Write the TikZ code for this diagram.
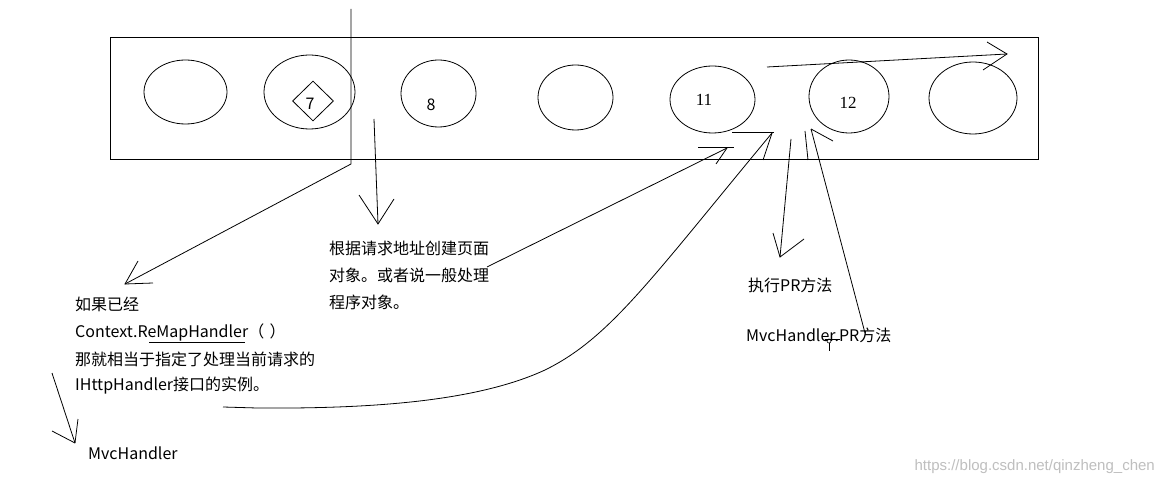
\documentclass[tikz,border=0pt]{standalone}
\usepackage{fontspec}
\newfontfamily\cjk{Noto Sans CJK SC}
\newfontfamily\numserif{Liberation Serif}
\newfontfamily\wmfont{Liberation Sans}
\usetikzlibrary{shapes.geometric}
\tikzset{
  stroke/.style={line width=0.8pt, black},
  frame/.style={line width=1.0pt, black},
  oval/.style={draw, ellipse, line width=0.8pt, inner sep=0pt},
  txt/.style={anchor=west, inner sep=0pt, font=\cjk\fontsize{16}{16}\selectfont},
  numlbl/.style={inner sep=0pt, font=\numserif\fontsize{17}{17}\selectfont},
  numsans/.style={inner sep=0pt, font=\cjk\fontsize{16}{16}\selectfont},
}
\begin{document}
\begin{tikzpicture}[x=1pt,y=-1pt]
\useasboundingbox (0,0) rectangle (1162,486);
\fill[white] (0,0) rectangle (1162,486);

% frame
\draw[frame] (110,38) rectangle (1038,160);

% ovals
\node[oval, minimum width=83pt, minimum height=64pt] (e1) at (185.5,92) {};
\node[oval, minimum width=91pt, minimum height=74pt] (e7) at (309.5,92) {};
\node[oval, minimum width=75pt, minimum height=67pt] (e8) at (438.5,93.5) {};
\node[oval, minimum width=75pt, minimum height=65pt] (e4) at (575.5,97.5) {};
\node[oval, minimum width=85pt, minimum height=67pt] (e11) at (712.5,99.5) {};
\node[oval, minimum width=80pt, minimum height=73pt] (e12) at (849,96.5) {};
\node[oval, minimum width=88pt, minimum height=72pt] (e6) at (973,98) {};
\node[draw, diamond, line width=0.8pt, inner sep=0pt, minimum width=41pt, minimum height=40pt] (d7) at (313,101) {};

% numbers
\node[numsans] (n7) at (310,104) {7};
\node[numsans] (n8) at (431,105) {8};
\node[numlbl] (n11) at (704,100) {11};
\node[numlbl] (n12) at (848,103) {12};

% texts
\node[txt] (t1) at (329,248) {根据请求地址创建页面};
\node[txt] (t2) at (329,275) {对象。或者说一般处理};
\node[txt] (t3) at (329,302) {程序对象。};
\node[txt] (t4) at (75,304) {如果已经};
\node[txt] (t5) at (75,332) {Context.ReMapHandler（\,\,）};
\node[txt] (t6) at (75,359) {那就相当于指定了处理当前请求的};
\node[txt] (t7) at (75,386) {IHttpHandler接口的实例。};
\node[txt] (t8) at (88,453) {MvcHandler};
\node[txt] (t9) at (748,285) {执行PR方法};
\node[txt] (t10) at (746,335) {MvcHandler.PR方法};
\node[anchor=east, inner sep=0pt, text=black!25, font=\wmfont\fontsize{15}{15}\selectfont] (wm) at (1155,467) {https://blog.csdn.net/qinzheng\_chen};

% coordinates
\coordinate (a1s) at (351,9);
\coordinate (a1k) at (351,164);
\coordinate (a1e) at (125,284);
\coordinate (a1h1) at (138,261);
\coordinate (a1h2) at (153,283);

\coordinate (a2s) at (374,119);
\coordinate (a2e) at (378,224);
\coordinate (a2h1) at (359,195);
\coordinate (a2h2) at (394,199);

\coordinate (a3s) at (487,267);
\coordinate (a3e) at (727,148);
\coordinate (a3h1) at (716,164);
\coordinate (a3b1) at (698,147);
\coordinate (a3b2) at (734,147);

\coordinate (a4s) at (223,407);
\coordinate (a4e) at (772,133);
\coordinate (a4h1) at (763,160);
\coordinate (a4b1) at (732,132);
\coordinate (a4b2) at (774,132);

\coordinate (a5s) at (791,139);
\coordinate (a5e) at (780,257);
\coordinate (a5h1) at (773,233);
\coordinate (a5h2) at (804,239);

\coordinate (a6s) at (805,131);
\coordinate (a6e) at (808,160);

\coordinate (a7s) at (811,129);
\coordinate (a7e) at (865,333);
\coordinate (a7h1) at (833,141);

\coordinate (a8s) at (767,67);
\coordinate (a8e) at (1007,54);
\coordinate (a8h1) at (987,42);
\coordinate (a8h2) at (983,70);

\coordinate (a9s) at (52,373);
\coordinate (a9e) at (75,443);
\coordinate (a9h1) at (52,431);
\coordinate (a9h2) at (78,419);

\coordinate (u1) at (149,342);
\coordinate (u2) at (245,342);

% connectors
\draw[stroke] (a1s) -- (a1k) -- (a1e);
\draw[stroke] (a1h1) -- (a1e) -- (a1h2);

\draw[stroke] (a2s) -- (a2e);
\draw[stroke] (a2h1) -- (a2e) -- (a2h2);

\draw[stroke] (a3s) -- (a3e);
\draw[stroke] (a3h1) -- (a3e);
\draw[stroke] (a3b1) -- (a3b2);

\draw[stroke] (a4s) -- (257,408) .. controls (380,409) and (480,400) .. (545,370)
  .. controls (610,338) and (650,280) .. (a4e);
\draw[stroke] (a4h1) -- (a4e);
\draw[stroke] (a4b1) -- (a4b2);

\draw[stroke] (a5s) -- (a5e);
\draw[stroke] (a5h1) -- (a5e) -- (a5h2);

\draw[stroke] (a6s) -- (a6e);

\draw[stroke] (a7s) -- (a7e);
\draw[stroke] (a7s) -- (a7h1);

\draw[stroke] (a8s) -- (a8e);
\draw[stroke] (a8h1) -- (a8e) -- (a8h2);

\draw[stroke] (a9s) -- (a9e);
\draw[stroke] (a9h1) -- (a9e);
\draw[stroke] (a9h2) -- (a9e);

\draw[stroke] (u1) -- (u2);

% cursor artifact
\coordinate (c0) at (829,341);
\draw[stroke, line width=0.6pt] (825,339) -- (840,339);
\draw[stroke, line width=0.6pt] (c0) circle (2);
\draw[stroke, line width=0.6pt] (829,343) -- (829,351);
\end{tikzpicture}
\end{document}
